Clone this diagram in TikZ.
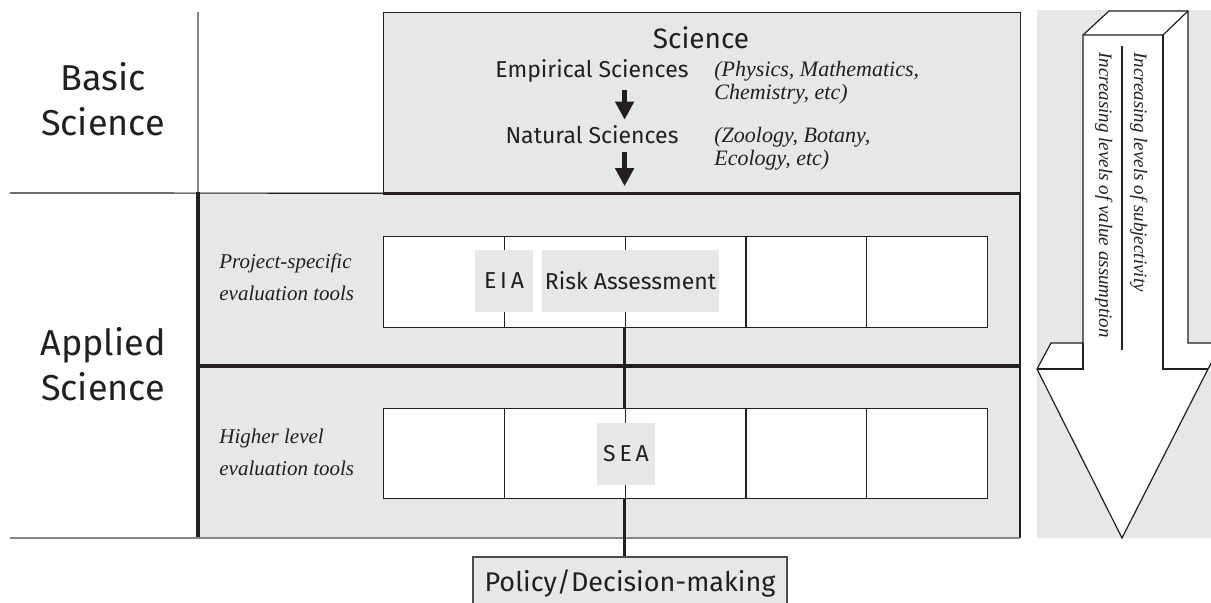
\documentclass[tikz,border=0pt]{standalone}
\usepackage{fontspec}
\setmainfont{Liberation Serif}
\setsansfont{Fira Sans}
\usetikzlibrary{arrows.meta,positioning}

\definecolor{panel}{HTML}{E6E7E8}
\definecolor{ink}{HTML}{231F20}
\definecolor{rule}{HTML}{858585}

\tikzset{
    hand/.style={font=\sffamily\fontsize{11.5}{13}\selectfont, text=ink, inner sep=0pt},
    big/.style={font=\sffamily\fontsize{18}{22.5}\selectfont, text=ink, align=center, inner sep=0pt},
    note/.style={font=\itshape\fontsize{11}{11.5}\selectfont, text=ink, align=left, inner sep=0pt},
    side/.style={font=\itshape\fontsize{10.5}{16}\selectfont, text=ink, align=left, inner sep=0pt},
    cell/.style={draw=ink, fill=white, line width=0.6pt, minimum width=60.4pt, inner sep=0pt},
    tag/.style={fill=panel, font=\sffamily\fontsize{11.5}{13}\selectfont, text=ink, inner sep=0pt, minimum height=31pt},
    link/.style={draw=ink, line width=1.6pt},
    fall/.style={-{Triangle[width=9pt,length=9pt]}, draw=ink, fill=ink, line width=2.3pt},
}

\begin{document}
\begin{tikzpicture}[x=0.5pt, y=-0.5pt]
    \useasboundingbox (0,0) rectangle (1211,602);

    % grey panels
    \fill[panel] (198,192) rectangle (1020,538);
    \draw[ink, line width=0.6pt] (1020,192) -- (1020,538);
    \node[draw=ink, fill=panel, line width=0.6pt, anchor=north west, inner sep=0pt,
          minimum width=318.5pt, minimum height=90pt] (basicbox) at (383,12) {};
    \fill[panel] (1037,10) rectangle (1211,538);

    % table rules
    \draw[rule, line width=0.6pt] (198,12) -- (198,192);
    \draw[ink, line width=0.6pt] (10,193) -- (basicbox.south west);
    \draw[ink, line width=1.6pt] (basicbox.south west) -- (basicbox.south east);
    \draw[ink, line width=1.6pt] (198,192) -- (198,538);
    \draw[ink, line width=1.6pt] (198,366) -- (1020,366);
    \draw[rule, line width=1pt] (10,538) -- (1020,538);

    \node[big] (basic) at (103,99) {Basic\\Science};
    \node[big] (applied) at (103,364) {Applied\\Science};

    % rows of tools
    \foreach \i in {0,...,4} {
        \node[cell, anchor=north west, minimum height=45.5pt] (p\i) at ({383+120.8*\i},236) {};
        \node[cell, anchor=north west, minimum height=45pt] (h\i) at ({383+120.8*\i},408) {};
    }
    \node[side, anchor=west] (projlbl) at (219,277) {Project-specific\\evaluation tools};
    \node[side, anchor=west] (highlbl) at (219,452) {Higher level\\evaluation tools};

    \node[tag, minimum width=29pt] (eia) at (504,281) {E\,I\,A};
    \node[tag, minimum width=88.5pt] (risk) at (630.5,281) {Risk Assessment};
    \node[tag, minimum width=29pt] (sea) at (626,454) {S\,E\,A};

    % science
    \node[hand, font=\sffamily\fontsize{14}{16}\selectfont] (science) at (701,38) {Science};
    \node[hand, anchor=base] (emp) at (592,77) {Empirical Sciences};
    \node[hand, anchor=base] (nat) at (592,143) {Natural Sciences};
    \node[note, anchor=west] (empex) at (714,83) {(Physics, Mathematics,\\Chemistry, etc)};
    \node[note, anchor=west] (natex) at (714,149) {(Zoology, Botany,\\Ecology, etc)};

    \draw[fall] ([yshift=-4pt]emp.south -| p2.west) -- ([yshift=2.5pt]nat.north -| p2.west);
    \draw[fall] ([yshift=-4pt]nat.south -| p2.west) -- ([yshift=3.5pt]basicbox.south -| p2.west);

    \node[draw=ink!80, fill=panel, line width=0.6pt, hand, font=\sffamily\fontsize{13.5}{15}\selectfont,
          minimum width=157pt, minimum height=26pt] (policy) at (630,583) {Policy/Decision-making};

    \draw[link] (p2.south west) -- (h2.north west);
    \draw[link] (h2.south west) -- (h2.south west |- policy.north);

    % block arrow
    \draw[ink, fill=white, line width=0.6pt, line join=miter]
        (1083,35) -- (1109,11) -- (1188,11) -- (1188,343) -- (1222,343) -- (1208,369)
        -- (1122,538) -- (1037,369) -- (1051,343) -- (1083,343) -- cycle;
    \draw[ink, line width=0.6pt] (1083,35) -- (1163,35) -- (1188,11);
    \draw[ink, line width=0.6pt] (1163,35) -- (1163,369) -- (1208,369);
    \draw[ink, line width=0.6pt] (1083,343) -- (1083,369) -- (1037,369);
    \draw[ink, line width=0.6pt] (1122,46) -- (1122,350);
    \node[note, font=\itshape\fontsize{9.5}{11}\selectfont, rotate=-90, anchor=base west] (subj) at (1134,52)
        {Increasing levels of subjectivity};
    \node[note, font=\itshape\fontsize{9.5}{11}\selectfont, rotate=-90, anchor=base west] (value) at (1099,52)
        {Increasing levels of value assumption};
\end{tikzpicture}
\end{document}
